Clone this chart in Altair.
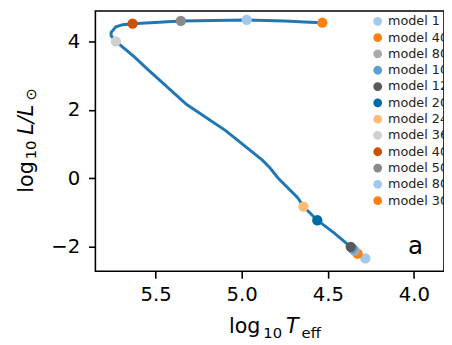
import altair as alt
import pandas as pd

# evolutionary track (log Teff, log L/Lsun)
track_logT = [4.293, 4.367, 4.464, 4.561, 4.641, 4.675, 4.789, 4.835, 4.880, 5.091,
              5.319, 5.547, 5.621, 5.730, 5.758, 5.758, 5.730, 5.690, 5.633, 5.353,
              4.971, 4.749, 4.635, 4.532]
track_logL = [-2.32, -2.01, -1.60, -1.23, -0.83, -0.57, 0.01, 0.30, 0.53, 1.39,
              2.16, 3.20, 3.55, 4.01, 4.18, 4.27, 4.44, 4.50, 4.53, 4.61,
              4.64, 4.61, 4.58, 4.56]

model_names = ["model 1", "model 40", "model 80", "model 100", "model 120", "model 200",
               "model 240", "model 360", "model 400", "model 500", "model 800", "model 3000"]
model_logT = [4.282, 4.327, 4.344, 4.356, 4.367, 4.561, 4.641, 5.730, 5.633, 5.353, 4.971, 4.532]
model_logL = [-2.35, -2.21, -2.12, -2.06, -2.01, -1.23, -0.83, 4.01, 4.53, 4.61, 4.64, 4.56]
model_colors = ["#A2C8EC", "#FF800E", "#ABABAB", "#5F9ED1", "#595959", "#006BA4",
                "#FFBC79", "#CFCFCF", "#C85200", "#898989", "#A2C8EC", "#FF800E"]

x_ticks = [5.5, 5.0, 4.5, 4.0]
y_ticks = [-2, 0, 2, 4]

panel_label = ["a"]
panel_label_logT = [3.991]
panel_label_logL = [-2.21]

FONT = "DejaVu Sans"

line_df = pd.DataFrame({"logT": track_logT, "logL": track_logL, "i": list(range(len(track_logT)))})
pts_df = pd.DataFrame({"logT": model_logT, "logL": model_logL, "model": model_names,
                       "i": list(range(len(model_names)))})
lab_df = pd.DataFrame({"logT": panel_label_logT, "logL": panel_label_logL, "t": panel_label})

x_scale = alt.Scale(domain=[3.8255, 5.849], reverse=True, nice=False, zero=False)
y_scale = alt.Scale(domain=[-2.725, 4.9007], nice=False, zero=False)

x_axis = alt.Axis(values=x_ticks, format=".1f", title=None, grid=False, domain=False,
                  tickSize=7, tickWidth=1.6, tickColor="black", labelPadding=7,
                  labelFontSize=20, labelFont=FONT, labelColor="black")
y_axis = alt.Axis(values=y_ticks, format="d", title=None, grid=False, domain=False,
                  tickSize=7, tickWidth=1.6, tickColor="black", labelPadding=9,
                  labelFontSize=20, labelFont=FONT, labelColor="black")

line = alt.Chart(line_df).mark_line(color="#1f77b4", strokeWidth=3, clip=True).encode(
    x=alt.X("logT:Q", scale=x_scale, axis=x_axis),
    y=alt.Y("logL:Q", scale=y_scale, axis=y_axis),
    order="i:Q",
)

pts = alt.Chart(pts_df).mark_circle(size=110, opacity=1).encode(
    x=alt.X("logT:Q", scale=x_scale),
    y=alt.Y("logL:Q", scale=y_scale),
    color=alt.Color("model:N", scale=alt.Scale(domain=model_names, range=model_colors),
                    sort=model_names,
                    legend=alt.Legend(title=None, orient="none", legendX=281, legendY=4,
                                      padding=0, symbolType="circle", symbolSize=80,
                                      symbolStrokeWidth=0, symbolOpacity=1,
                                      labelFontSize=13, labelFont=FONT, labelColor="#222222",
                                      labelOffset=4, rowPadding=2.6, labelLimit=200)),
    order="i:Q",
)

lab = alt.Chart(lab_df).mark_text(fontSize=25, font=FONT, align="center", baseline="alphabetic",
                                  color="black").encode(
    x=alt.X("logT:Q", scale=x_scale),
    y=alt.Y("logL:Q", scale=y_scale),
    text="t:N",
)


def piece(txt, x, y, size, italic=False, angle=0):
    kw = dict(fontSize=size, font=FONT, align="left", baseline="alphabetic", color="black")
    if italic:
        kw["fontStyle"] = "italic"
    if angle:
        kw["angle"] = angle
    return alt.Chart(pd.DataFrame({"t": [txt]})).mark_text(**kw).encode(
        text="t:N", x=alt.value(x), y=alt.value(y))


titles = [
    piece("log", 136, 328, 21),
    piece("10", 171, 332.5, 15),
    piece("T", 194, 328, 21, italic=True),
    piece("eff", 210, 332.5, 15),
    piece("log", -64, 185, 21, angle=270),
    piece("10", -60, 151, 15, angle=270),
    piece("L/L", -64, 126, 21, italic=True, angle=270),
    piece("⊙", -60, 91, 15, angle=270),
]

chart = alt.layer(line, pts, lab, *titles).properties(
    width=355, height=265,
    autosize=alt.AutoSizeParams(type="none"),
    padding={"left": 89, "top": 0, "right": 0, "bottom": 72},
).configure(font=FONT).configure_view(stroke="black", strokeWidth=1.6)

chart.save("out.html", embed_options={"renderer": "svg", "actions": False})
